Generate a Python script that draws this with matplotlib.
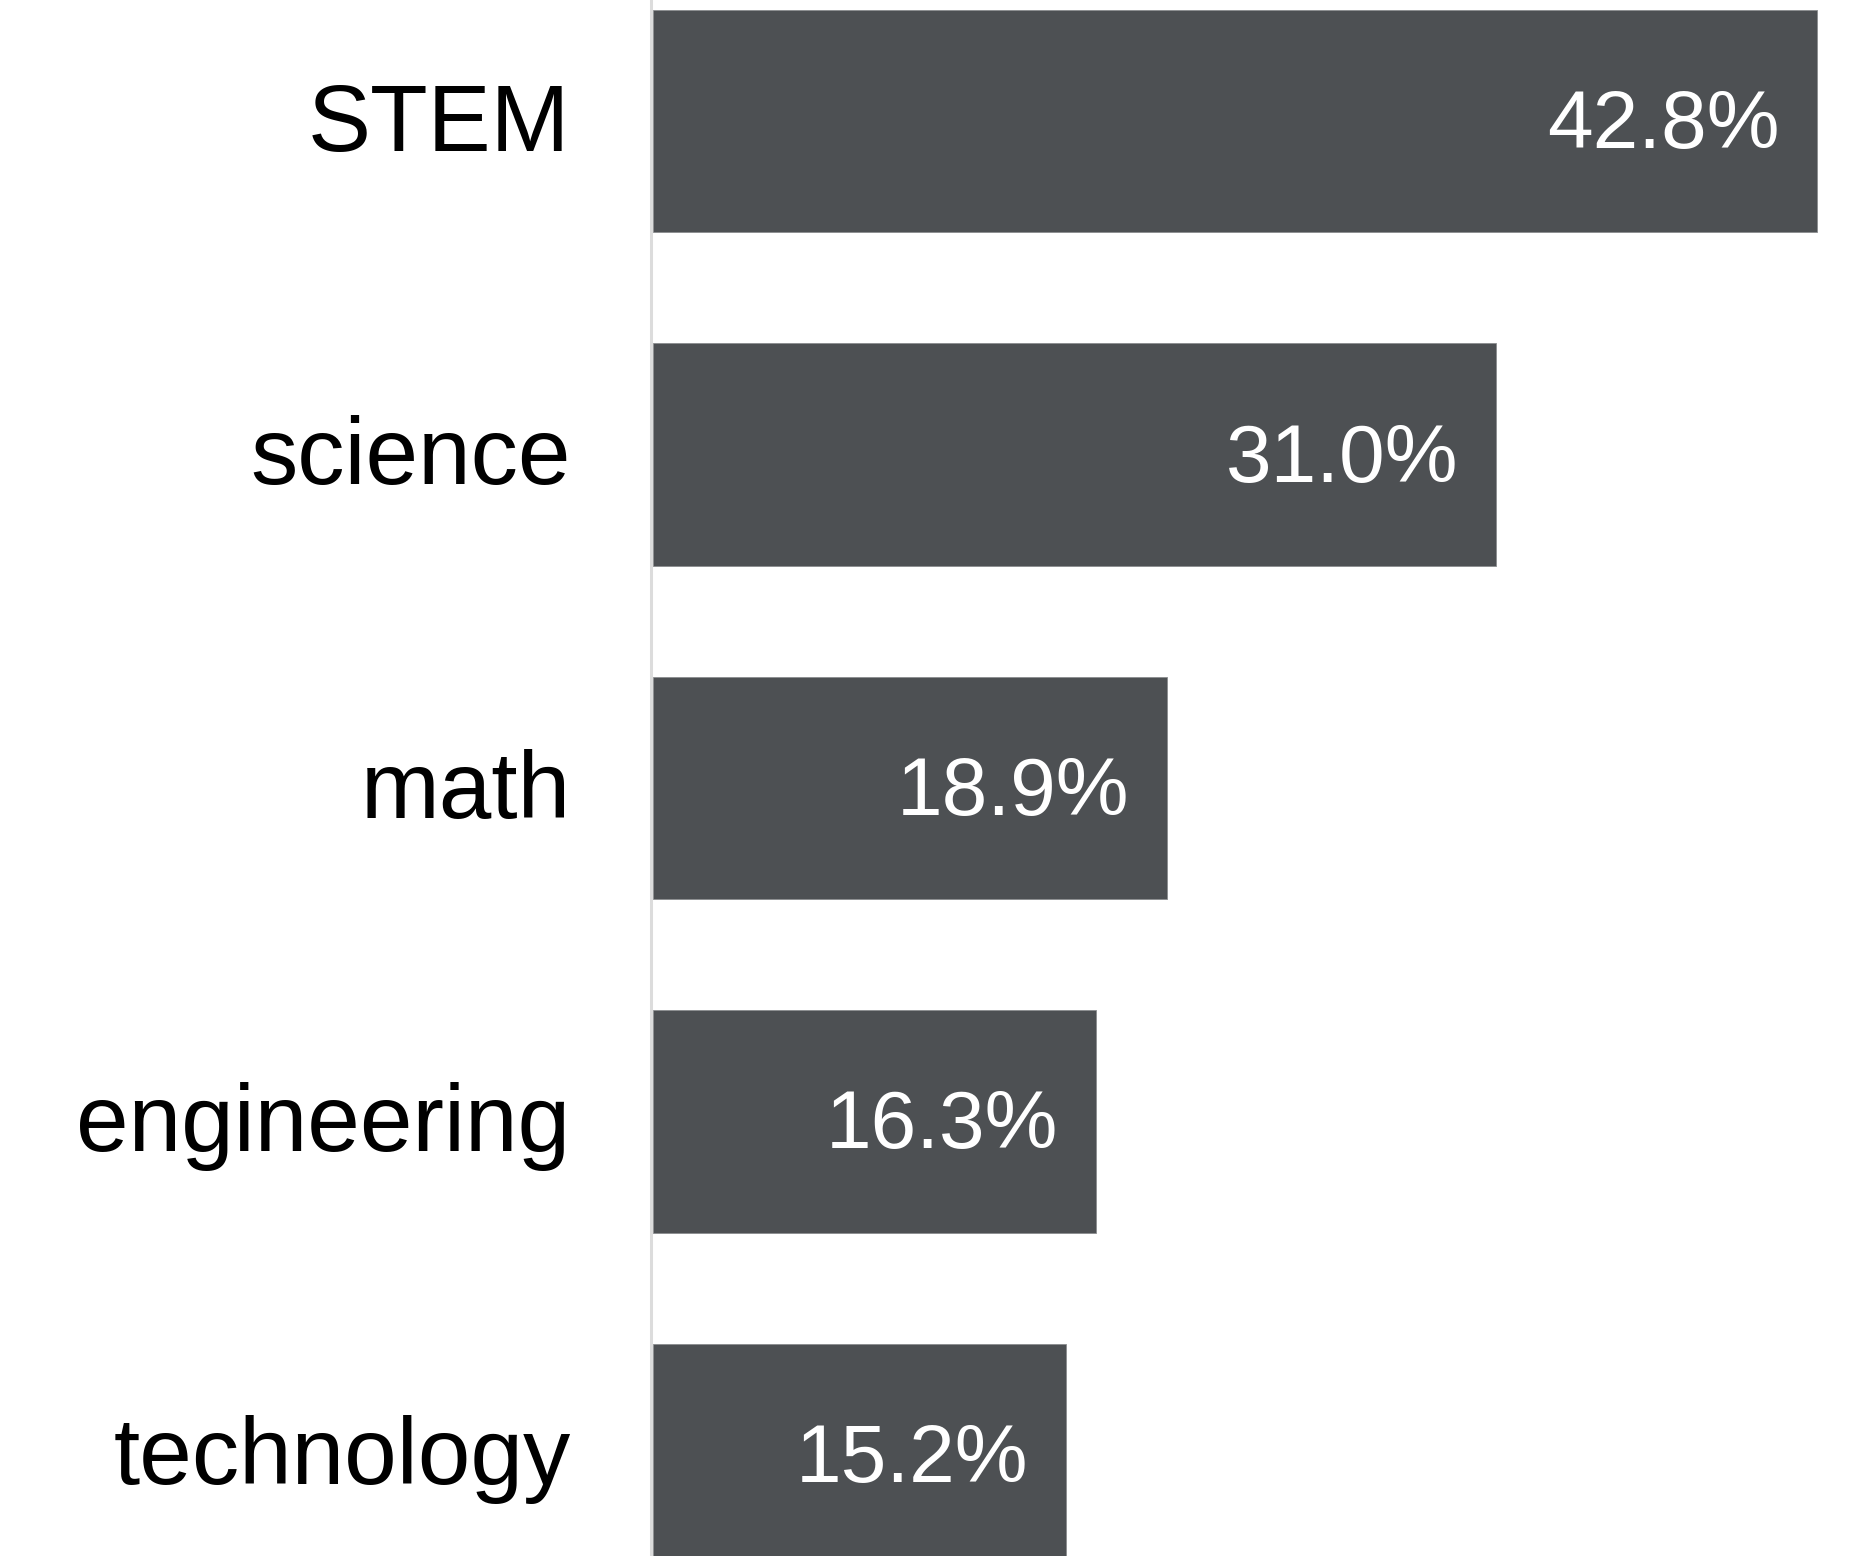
import matplotlib.pyplot as plt
import numpy as np

# Data
categories = ["STEM", "science", "math", "engineering", "technology"]
values = [42.8, 31.0, 18.9, 16.3, 15.2]

plt.rcParams["font.family"] = ["Liberation Sans", "DejaVu Sans"]

fig = plt.figure(figsize=(18.51, 15.56), dpi=100)
ax = fig.add_axes([650.5 / 1851, 0, (1851 - 650.5) / 1851, 1])

y = np.arange(len(categories))
ax.barh(y, values, height=0.666, color="#4d5053", edgecolor="#8a8c8e", linewidth=0.6)

# value labels inside bar ends
for yi, v in zip(y, values):
    ax.annotate(f"{v:.1f}%", xy=(v, yi), xytext=(-38, -6), textcoords="offset pixels",
                ha="right", va="center", color="white", fontsize=59)

# category labels left of the axis
for yi, c in zip(y, categories):
    ax.annotate(c, xy=(0, yi), xycoords=("axes fraction", "data"),
                xytext=(-80, -5), textcoords="offset pixels",
                ha="right", va="center", color="black", fontsize=68,
                annotation_clip=False)

ax.set_xlim(-0.092, 44.04)
ax.set_ylim(4.303, -0.363)
ax.set_xticks([])
ax.set_yticks([])

for s in ["top", "right", "bottom"]:
    ax.spines[s].set_visible(False)
ax.spines["left"].set_color("#dcdcdc")
ax.spines["left"].set_linewidth(2.2)

fig.savefig("out.png", dpi=100)
